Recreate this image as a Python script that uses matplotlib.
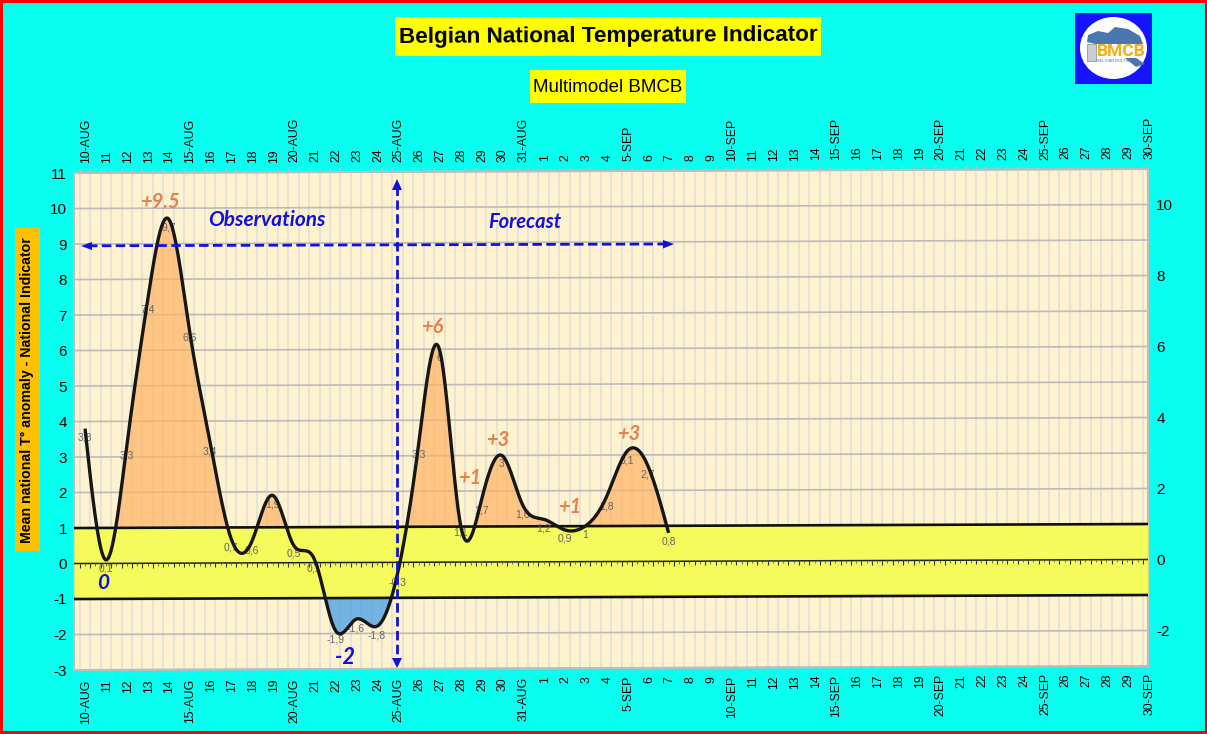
import numpy as np
import matplotlib
matplotlib.use("Agg")
import matplotlib.pyplot as plt
from matplotlib.patches import Rectangle, Ellipse, Polygon
from matplotlib.transforms import Affine2D

plt.rcParams["font.family"] = ["Liberation Sans", "DejaVu Sans"]
plt.rcParams["axes.unicode_minus"] = False

# day index 0 = 10-AUG
values = [3.8, 0.1, 3.3, 7.4, 9.7, 6.6, 3.4, 0.7, 0.6, 1.9, 0.5, 0.1, -1.9, -1.6, -1.8,
          -0.3, 3.3, 6, 1.1, 1.7, 3, 1.6, 1.2, 0.9, 1, 1.8, 3.1, 2.7, 0.8]
aug_days = list(range(10, 32))
sep_days = list(range(1, 31))
month_marks = {10: "10-AUG", 15: "15-AUG", 20: "20-AUG", 25: "25-AUG", 31: "31-AUG"}
sep_marks = {5: "5-SEP", 10: "10-SEP", 15: "15-SEP", 20: "20-SEP", 25: "25-SEP", 30: "30-SEP"}
day_labels = [month_marks.get(d, str(d)) for d in aug_days] + [sep_marks.get(d, str(d)) for d in sep_days]
left_ticks = list(range(-3, 12))
right_ticks = [-2, 0, 2, 4, 6, 8, 10]

CYAN = "#08FFF0"
ORANGE = "#E8804E"
BLUE = "#1010E0"
SKEW = 0.0022  # the whole plot area leans up a little to the right


def smooth(v, per_seg=40):
    # natural cubic spline through every value, stands in for the spreadsheet smoothed line
    v = np.asarray(v, dtype=float)
    n = len(v)
    A = np.zeros((n, n))
    b = np.zeros(n)
    A[0, 0] = A[-1, -1] = 1
    for i in range(1, n - 1):
        A[i, i - 1:i + 2] = [1, 4, 1]
        b[i] = 6 * (v[i + 1] - 2 * v[i] + v[i - 1])
    m = np.linalg.solve(A, b)
    t = np.linspace(0, 1, per_seg, endpoint=False)
    xs, ys = [], []
    for i in range(n - 1):
        ys.append((1 - t) * v[i] + t * v[i + 1]
                  + ((1 - t)**3 - (1 - t)) * m[i] / 6 + (t**3 - t) * m[i + 1] / 6)
        xs.append(i + t)
    xs.append([n - 1])
    ys.append([v[-1]])
    return np.concatenate(xs), np.concatenate(ys)


fig = plt.figure(figsize=(12.07, 7.34), dpi=100, facecolor=CYAN)
ax = fig.add_axes([74 / 1207, 1 - 670 / 734, (1148 - 74) / 1207, (670 - 173) / 734])
ax.set_xlim(-0.53, 51)
ax.set_ylim(-3, 11)
ax.patch.set_visible(False)
for s in ax.spines.values():
    s.set_visible(False)

tilt = Affine2D.from_values(1, SKEW, 0, 1, 0, 0) + ax.transData
x0, x1 = -0.53, 51

# background
ax.fill_between([x0, x1], -3, 11, color="#FFF3CF", lw=0, transform=tilt, zorder=1, clip_on=False)

# grid
half_days = np.arange(-0.25, 51, 0.5)
ax.vlines(half_days, -3, 11, color="#E2DFDA", lw=1.2, transform=tilt, zorder=2, clip_on=False)
ax.hlines(left_ticks, x0, x1, color="#BDBAB8", lw=1.2, transform=tilt, zorder=2.1, clip_on=False)
ax.vlines(half_days, 11, 11.1, color="#BDBDBD", lw=1, transform=tilt, zorder=2, clip_on=False)
ax.plot([x0, x1, x1, x0, x0], [-3, -3, 11, 11, -3], color="#BDBDBD", lw=1.5, transform=tilt,
        zorder=2.2, clip_on=False)

# yellow band lies over the grid, which only just shows through
ax.fill_between([x0, x1], -1, 1, color="#F6FC50", alpha=0.9, lw=0, transform=tilt, zorder=2.5, clip_on=False)

# fills
cx, cy = smooth(values)
ax.fill_between(cx, 1, cy, where=(cy > 1) & (cx >= 1), color="#FFB060", alpha=0.68, lw=0,
                transform=tilt, zorder=3, interpolate=True)
ax.fill_between(cx, -1, cy, where=cy < -1, color="#4FA3E6", alpha=0.8, lw=0,
                transform=tilt, zorder=3, interpolate=True)

# band limits and zero axis
ax.hlines([1, -1], x0, x1, color="#111111", lw=1.9, transform=tilt, zorder=4, clip_on=False)
ax.hlines(0, x0, x1, color="#222222", lw=1.1, transform=tilt, zorder=4, clip_on=False)
ax.vlines(np.arange(-0.25, 51, 0.25), -0.07, 0, color="#555555", lw=0.6, transform=tilt, zorder=4)
ax.vlines(half_days, -0.12, 0, color="#333333", lw=0.8, transform=tilt, zorder=4)

# data labels sit under the curve
for i, v in enumerate(values):
    txt = f"{v:g}".replace(".", ",")
    ax.annotate(txt, xy=(i, v), xycoords=tilt, xytext=(0, -6.5), textcoords="offset points",
                ha="center", va="center", fontsize=7.5, color="#666666", zorder=5)

ax.plot(cx, cy, color="#161616", lw=2.4, transform=tilt, zorder=6, clip_on=False,
        solid_capstyle="butt")

# axes text
nudge = Affine2D().translate(1.2, 0)
ax.set_yticks(left_ticks)
ax.tick_params(axis="y", length=0, pad=5, labelsize=11)
ax.set_xticks(range(len(day_labels)))
ax.set_xticklabels(day_labels, rotation=90, fontsize=8.8, va="top", ha="center")
ax.tick_params(axis="x", length=0)
n = len(day_labels)
for i, tick in enumerate(ax.xaxis.get_major_ticks()):
    tick.set_pad(7 - 5.0 * i / (n - 1))
    tick.label1.set_transform(tick.label1.get_transform() + nudge)

ax_r = ax.twinx()
ax_r.set_ylim(-3 - SKEW * 51, 11 - SKEW * 51)
ax_r.set_yticks(right_ticks)
ax_r.tick_params(axis="y", length=0, pad=6, labelsize=11)
ax_t = ax.twiny()
ax_t.set_xlim(ax.get_xlim())
ax_t.set_xticks(range(n))
ax_t.set_xticklabels(day_labels, rotation=90, fontsize=8.8, va="bottom", ha="center")
ax_t.tick_params(axis="x", length=0)
for i, tick in enumerate(ax_t.xaxis.get_major_ticks()):
    tick.set_pad(7 + 3.0 * i / (n - 1))
    tick.label2.set_transform(tick.label2.get_transform() + nudge)
for a in (ax_r, ax_t):
    a.patch.set_visible(False)
    for s in a.spines.values():
        s.set_visible(False)

# overlay in image pixels for the boxes, callouts and logo
ov = fig.add_axes([0, 0, 1, 1], zorder=10)
ov.set_xlim(0, 1207)
ov.set_ylim(734, 0)
ov.axis("off")

ov.add_patch(Rectangle((1, 1), 1205, 731, fill=False, ec="#FF0000", lw=2.2))

ov.add_patch(Rectangle((395, 17), 426, 39, fc="#FFFF00", ec="none"))
ov.text(608, 36, "Belgian National Temperature Indicator", fontsize=16.2, fontweight="bold",
        ha="center", va="center", rotation=0.3, color="black")
ov.add_patch(Rectangle((530, 70), 156, 33, fc="#FFFF00", ec="none"))
ov.text(608, 87, "Multimodel BMCB", fontsize=13.5, ha="center", va="center", color="black")
ov.add_patch(Rectangle((15, 228), 25, 323, fc="#FFC000", ec="none"))
ov.text(27.5, 390, "Mean national T° anomaly - National Indicator", fontsize=10.2, fontweight="bold",
        rotation=90, ha="center", va="center", color="black")

# logo
ov.add_patch(Rectangle((1075, 13), 77, 71, fc="#1414FF", ec="none"))
ov.add_patch(Ellipse((1113.5, 48), 67, 62, fc="white", ec="none"))
ov.add_patch(Polygon([(1087, 42), (1088, 35), (1098, 31), (1108, 33), (1115, 27), (1128, 29), (1140, 36),
                      (1143, 44), (1095, 44)], fc="#4A78AE", ec="none"))
ov.add_patch(Polygon([(1125, 58), (1136, 58), (1145, 64), (1136, 67)], fc="#4A78AE", ec="none"))
ov.add_patch(Rectangle((1087, 44), 9, 17, fc="#C9CDD2", ec="#888888", lw=0.5))
ov.text(1121, 51, "BMCB", fontsize=12.5, fontweight="bold", color="#F2AE14", ha="center", va="center",
        family=["Roboto", "DejaVu Sans"])
ov.text(1119, 60.5, "BELGIAN MULTIMODEL", fontsize=2.8, color="#5577AA", ha="center", va="center")

# callouts
callouts = [("+9.5", 160, 202, 14.5), ("+6", 432, 327, 14.5), ("+3", 498, 440, 14.5),
            ("+1", 470, 478, 14.5), ("+1", 570, 507, 14.5), ("+3", 629, 434, 14.5)]
for s, x, y, fs in callouts:
    ov.text(x, y, s, color=ORANGE, fontsize=fs, fontweight="bold", style="italic", ha="center",
            va="center", family=["Lato", "DejaVu Sans"])
blue_text = [("Observations", 267, 220, 15), ("Forecast", 525, 222, 14.5),
             ("0", 103, 583, 15), ("-2", 345, 657, 15.5)]
for s, x, y, fs in blue_text:
    ov.text(x, y, s, color=BLUE, fontsize=fs, fontweight="bold", style="italic", ha="center",
            va="center", family=["Lato", "DejaVu Sans"])

# dashed arrows
ov.plot([88, 666], [245.8, 244], color=BLUE, lw=2, ls=(0, (3.4, 1.6)))
ov.plot([397, 397], [186, 662], color=BLUE, lw=2, ls=(0, (3.4, 1.6)))
ov.add_patch(Polygon([(81, 246), (92, 242), (92, 250)], fc=BLUE, ec="none"))
ov.add_patch(Polygon([(674, 244), (663, 240), (663, 248.5)], fc=BLUE, ec="none"))
ov.add_patch(Polygon([(397, 179), (392, 190), (402, 190)], fc=BLUE, ec="none"))
ov.add_patch(Polygon([(397, 668), (392, 658), (402, 658)], fc=BLUE, ec="none"))

fig.savefig("out.png", dpi=100, facecolor=CYAN)
